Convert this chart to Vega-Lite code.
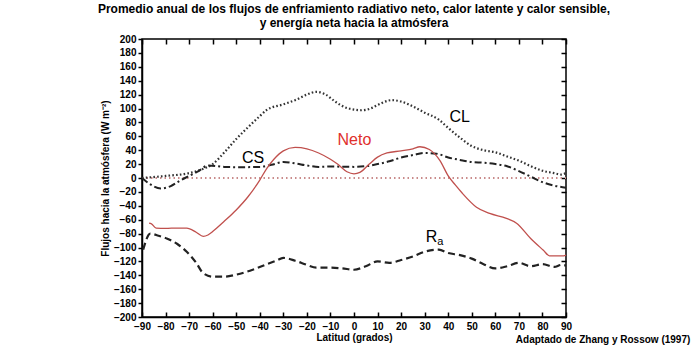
{
  "$schema": "https://vega.github.io/schema/vega-lite/v6.json",
  "width": 424,
  "height": 278,
  "autosize": "none",
  "padding": {"left": 142, "top": 39, "right": 134, "bottom": 33},
  "background": "white",
  "config": {
    "font": "Liberation Sans",
    "view": {"stroke": "black", "strokeWidth": 1.5},
    "axis": {"grid": false, "domainColor": "black", "tickColor": "black", "labelColor": "black", "titleColor": "black", "labelFont": "Liberation Sans", "titleFont": "Liberation Sans", "labelFontWeight": "bold", "titleFontWeight": "bold", "labelFontSize": 10, "titleFontSize": 10, "domainWidth": 1.5, "tickWidth": 1.5}
  },
  "title": {
    "text": ["Promedio anual de los flujos de enfriamiento radiativo neto, calor latente y calor sensible,", "y energía neta hacia la atmósfera"],
    "fontSize": 12,
    "fontWeight": "bold",
    "font": "Liberation Sans",
    "color": "black",
    "lineHeight": 14.5,
    "offset": 4,
    "anchor": "middle"
  },
  "datasets": {
    "curves": [
      {"s": "CL", "lat": -90, "v": 0}, {"s": "CL", "lat": -80, "v": 3}, {"s": "CL", "lat": -70, "v": 7}, {"s": "CL", "lat": -65, "v": 12}, {"s": "CL", "lat": -60, "v": 20}, {"s": "CL", "lat": -55, "v": 37}, {"s": "CL", "lat": -50, "v": 56}, {"s": "CL", "lat": -45, "v": 73}, {"s": "CL", "lat": -40, "v": 89}, {"s": "CL", "lat": -37, "v": 98}, {"s": "CL", "lat": -30, "v": 106}, {"s": "CL", "lat": -25, "v": 112}, {"s": "CL", "lat": -20, "v": 120}, {"s": "CL", "lat": -16, "v": 124}, {"s": "CL", "lat": -12, "v": 120}, {"s": "CL", "lat": -8, "v": 110}, {"s": "CL", "lat": -4, "v": 102}, {"s": "CL", "lat": 0, "v": 98.5}, {"s": "CL", "lat": 3, "v": 97.5}, {"s": "CL", "lat": 7, "v": 100}, {"s": "CL", "lat": 10, "v": 105}, {"s": "CL", "lat": 16, "v": 112}, {"s": "CL", "lat": 20, "v": 110}, {"s": "CL", "lat": 25, "v": 103}, {"s": "CL", "lat": 30, "v": 94}, {"s": "CL", "lat": 36, "v": 84}, {"s": "CL", "lat": 40, "v": 72}, {"s": "CL", "lat": 45, "v": 58}, {"s": "CL", "lat": 50, "v": 46}, {"s": "CL", "lat": 55, "v": 40}, {"s": "CL", "lat": 60, "v": 37}, {"s": "CL", "lat": 65, "v": 31}, {"s": "CL", "lat": 70, "v": 25}, {"s": "CL", "lat": 75, "v": 17}, {"s": "CL", "lat": 80, "v": 10.5}, {"s": "CL", "lat": 85, "v": 7}, {"s": "CL", "lat": 88, "v": 5}, {"s": "CL", "lat": 90, "v": 7},
      {"s": "CS", "lat": -90, "v": 0}, {"s": "CS", "lat": -87, "v": -8}, {"s": "CS", "lat": -82, "v": -15}, {"s": "CS", "lat": -78, "v": -12}, {"s": "CS", "lat": -74, "v": -4}, {"s": "CS", "lat": -70, "v": 3}, {"s": "CS", "lat": -66, "v": 10}, {"s": "CS", "lat": -62, "v": 18}, {"s": "CS", "lat": -55, "v": 16}, {"s": "CS", "lat": -50, "v": 15.5}, {"s": "CS", "lat": -40, "v": 16}, {"s": "CS", "lat": -35, "v": 19}, {"s": "CS", "lat": -30, "v": 23}, {"s": "CS", "lat": -25, "v": 21}, {"s": "CS", "lat": -20, "v": 18}, {"s": "CS", "lat": -15, "v": 16}, {"s": "CS", "lat": -10, "v": 16.5}, {"s": "CS", "lat": 0, "v": 16}, {"s": "CS", "lat": 5, "v": 17}, {"s": "CS", "lat": 10, "v": 20}, {"s": "CS", "lat": 15, "v": 24}, {"s": "CS", "lat": 20, "v": 29.5}, {"s": "CS", "lat": 25, "v": 33}, {"s": "CS", "lat": 30, "v": 36}, {"s": "CS", "lat": 35, "v": 35}, {"s": "CS", "lat": 40, "v": 29.5}, {"s": "CS", "lat": 45, "v": 26}, {"s": "CS", "lat": 50, "v": 23}, {"s": "CS", "lat": 55, "v": 22}, {"s": "CS", "lat": 60, "v": 20}, {"s": "CS", "lat": 65, "v": 17}, {"s": "CS", "lat": 70, "v": 10}, {"s": "CS", "lat": 75, "v": 2}, {"s": "CS", "lat": 80, "v": -6}, {"s": "CS", "lat": 85, "v": -11}, {"s": "CS", "lat": 90, "v": -14},
      {"s": "Neto", "lat": -87, "v": -65}, {"s": "Neto", "lat": -86, "v": -66}, {"s": "Neto", "lat": -84, "v": -72}, {"s": "Neto", "lat": -80, "v": -72.5}, {"s": "Neto", "lat": -75, "v": -72}, {"s": "Neto", "lat": -71, "v": -72}, {"s": "Neto", "lat": -67, "v": -78}, {"s": "Neto", "lat": -64, "v": -84}, {"s": "Neto", "lat": -62, "v": -82}, {"s": "Neto", "lat": -60, "v": -77}, {"s": "Neto", "lat": -55, "v": -62}, {"s": "Neto", "lat": -50, "v": -46}, {"s": "Neto", "lat": -45, "v": -27}, {"s": "Neto", "lat": -40, "v": -3}, {"s": "Neto", "lat": -37, "v": 14}, {"s": "Neto", "lat": -34, "v": 27}, {"s": "Neto", "lat": -30, "v": 39}, {"s": "Neto", "lat": -25, "v": 44}, {"s": "Neto", "lat": -20, "v": 42}, {"s": "Neto", "lat": -15, "v": 36}, {"s": "Neto", "lat": -10, "v": 27}, {"s": "Neto", "lat": -7, "v": 20}, {"s": "Neto", "lat": -3, "v": 9}, {"s": "Neto", "lat": 0, "v": 6}, {"s": "Neto", "lat": 2.5, "v": 8}, {"s": "Neto", "lat": 6.5, "v": 20}, {"s": "Neto", "lat": 10, "v": 30}, {"s": "Neto", "lat": 14, "v": 36}, {"s": "Neto", "lat": 20, "v": 39}, {"s": "Neto", "lat": 25, "v": 42}, {"s": "Neto", "lat": 28, "v": 45}, {"s": "Neto", "lat": 32, "v": 41}, {"s": "Neto", "lat": 36.5, "v": 25}, {"s": "Neto", "lat": 40, "v": 3}, {"s": "Neto", "lat": 43, "v": -10}, {"s": "Neto", "lat": 46, "v": -22}, {"s": "Neto", "lat": 52, "v": -42}, {"s": "Neto", "lat": 57.6, "v": -51}, {"s": "Neto", "lat": 64.7, "v": -58}, {"s": "Neto", "lat": 69, "v": -65}, {"s": "Neto", "lat": 75, "v": -87}, {"s": "Neto", "lat": 80.4, "v": -104}, {"s": "Neto", "lat": 83, "v": -112}, {"s": "Neto", "lat": 89, "v": -112}, {"s": "Neto", "lat": 90, "v": -111},
      {"s": "Ra", "lat": -89.5, "v": -103}, {"s": "Ra", "lat": -86.5, "v": -80}, {"s": "Ra", "lat": -83, "v": -83}, {"s": "Ra", "lat": -79.5, "v": -87}, {"s": "Ra", "lat": -75, "v": -95}, {"s": "Ra", "lat": -71, "v": -106}, {"s": "Ra", "lat": -67, "v": -122}, {"s": "Ra", "lat": -64, "v": -137}, {"s": "Ra", "lat": -60, "v": -142}, {"s": "Ra", "lat": -55, "v": -142}, {"s": "Ra", "lat": -50, "v": -139}, {"s": "Ra", "lat": -43, "v": -132}, {"s": "Ra", "lat": -37, "v": -124}, {"s": "Ra", "lat": -33, "v": -119}, {"s": "Ra", "lat": -30, "v": -115}, {"s": "Ra", "lat": -25, "v": -119}, {"s": "Ra", "lat": -20, "v": -125}, {"s": "Ra", "lat": -16, "v": -129}, {"s": "Ra", "lat": -10, "v": -129}, {"s": "Ra", "lat": -5, "v": -130}, {"s": "Ra", "lat": 0, "v": -132}, {"s": "Ra", "lat": 5, "v": -127}, {"s": "Ra", "lat": 10, "v": -120}, {"s": "Ra", "lat": 15, "v": -122}, {"s": "Ra", "lat": 20, "v": -118}, {"s": "Ra", "lat": 25, "v": -113}, {"s": "Ra", "lat": 30, "v": -106}, {"s": "Ra", "lat": 36, "v": -103}, {"s": "Ra", "lat": 40, "v": -108}, {"s": "Ra", "lat": 45, "v": -111}, {"s": "Ra", "lat": 50, "v": -116}, {"s": "Ra", "lat": 55, "v": -124}, {"s": "Ra", "lat": 60, "v": -130}, {"s": "Ra", "lat": 65, "v": -127}, {"s": "Ra", "lat": 70, "v": -122}, {"s": "Ra", "lat": 75, "v": -127}, {"s": "Ra", "lat": 80, "v": -124}, {"s": "Ra", "lat": 85, "v": -128}, {"s": "Ra", "lat": 88, "v": -125}, {"s": "Ra", "lat": 90, "v": -126},
      {"s": "Cero", "lat": -90, "v": 0}, {"s": "Cero", "lat": 90, "v": 0}
    ],
    "labels": [
      {"t": "CS", "lat": -47.6, "v": 28.5, "k": "big"},
      {"t": "Neto", "lat": -7, "v": 54.5, "k": "red"},
      {"t": "CL", "lat": 40.5, "v": 87.5, "k": "big"},
      {"t": "R", "lat": 30.5, "v": -85, "k": "big"},
      {"t": "a", "lat": 35.3, "v": -92, "k": "sub"},
      {"t": "Adaptado de Zhang y Rossow (1997)", "lat": 68.7, "v": -233, "k": "src"}
    ]
  },
  "data": {"name": "curves"},
  "resolve": {"axis": {"x": "independent", "y": "independent"}},
  "layer": [
    {
      "transform": [{"filter": "datum.s === 'Cero'"}],
      "mark": {"type": "line", "color": "#c98b8b", "strokeWidth": 1.8, "strokeDash": [1.5, 3], "clip": false},
      "encoding": {
        "x": {"field": "lat", "type": "quantitative", "scale": {"domain": [-90, 90], "nice": false, "zero": false},
              "axis": {"orient": "bottom", "values": [-90, -80, -70, -60, -50, -40, -30, -20, -10, 0, 10, 20, 30, 40, 50, 60, 70, 80, 90], "tickSize": -5, "labelPadding": 9, "title": "Latitud (grados)", "titlePadding": 1, "labelFlush": false, "labelOverlap": false}},
        "y": {"field": "v", "type": "quantitative", "scale": {"domain": [-200, 200], "nice": false, "zero": false},
              "axis": {"orient": "left", "values": [-200, -180, -160, -140, -120, -100, -80, -60, -40, -20, 0, 20, 40, 60, 80, 100, 120, 140, 160, 180, 200], "tickSize": 4, "labelPadding": 2, "title": "Flujos hacia la atmósfera (W m⁻²)", "titlePadding": 3, "labelFlush": false, "labelOverlap": false}}
      }
    },
    {
      "transform": [{"filter": "datum.s === 'CL'"}],
      "mark": {"type": "line", "color": "#333333", "strokeWidth": 2.2, "strokeDash": [1.6, 2.2], "interpolate": "monotone"},
      "encoding": {
        "x": {"field": "lat", "type": "quantitative", "axis": {"orient": "top", "values": [-90, -80, -70, -60, -50, -40, -30, -20, -10, 0, 10, 20, 30, 40, 50, 60, 70, 80, 90], "tickSize": -5, "labels": false, "title": null, "domain": false}},
        "y": {"field": "v", "type": "quantitative", "axis": {"orient": "right", "values": [-200, -180, -160, -140, -120, -100, -80, -60, -40, -20, 0, 20, 40, 60, 80, 100, 120, 140, 160, 180, 200], "tickSize": -5, "labels": false, "title": null, "domain": false}}
      }
    },
    {
      "transform": [{"filter": "datum.s === 'CS'"}],
      "mark": {"type": "line", "color": "#222222", "strokeWidth": 2, "strokeDash": [7, 3, 2, 3], "interpolate": "monotone"},
      "encoding": {
        "x": {"field": "lat", "type": "quantitative", "axis": null},
        "y": {"field": "v", "type": "quantitative", "axis": null}
      }
    },
    {
      "transform": [{"filter": "datum.s === 'Ra'"}],
      "mark": {"type": "line", "color": "#222222", "strokeWidth": 2.2, "strokeDash": [7, 4], "interpolate": "monotone"},
      "encoding": {
        "x": {"field": "lat", "type": "quantitative", "axis": null},
        "y": {"field": "v", "type": "quantitative", "axis": null}
      }
    },
    {
      "transform": [{"filter": "datum.s === 'Neto'"}],
      "mark": {"type": "line", "color": "#c0504d", "strokeWidth": 1.3, "interpolate": "monotone"},
      "encoding": {
        "x": {"field": "lat", "type": "quantitative", "axis": null},
        "y": {"field": "v", "type": "quantitative", "axis": null}
      }
    },
    {
      "data": {"name": "labels"},
      "transform": [{"filter": "datum.k === 'big'"}],
      "mark": {"type": "text", "fontSize": 16, "font": "Liberation Sans", "color": "black", "align": "left", "baseline": "middle", "clip": false},
      "encoding": {
        "x": {"field": "lat", "type": "quantitative", "axis": null},
        "y": {"field": "v", "type": "quantitative", "axis": null},
        "text": {"field": "t"}
      }
    },
    {
      "data": {"name": "labels"},
      "transform": [{"filter": "datum.k === 'sub'"}],
      "mark": {"type": "text", "fontSize": 11, "font": "Liberation Sans", "color": "black", "align": "left", "baseline": "middle", "clip": false},
      "encoding": {
        "x": {"field": "lat", "type": "quantitative", "axis": null},
        "y": {"field": "v", "type": "quantitative", "axis": null},
        "text": {"field": "t"}
      }
    },
    {
      "data": {"name": "labels"},
      "transform": [{"filter": "datum.k === 'red'"}],
      "mark": {"type": "text", "fontSize": 16, "font": "Liberation Sans", "color": "#e0302c", "align": "left", "baseline": "middle", "clip": false},
      "encoding": {
        "x": {"field": "lat", "type": "quantitative", "axis": null},
        "y": {"field": "v", "type": "quantitative", "axis": null},
        "text": {"field": "t"}
      }
    },
    {
      "data": {"name": "labels"},
      "transform": [{"filter": "datum.k === 'src'"}],
      "mark": {"type": "text", "fontSize": 10, "fontWeight": "bold", "font": "Liberation Sans", "color": "black", "align": "left", "baseline": "middle", "clip": false},
      "encoding": {
        "x": {"field": "lat", "type": "quantitative", "axis": null},
        "y": {"field": "v", "type": "quantitative", "axis": null},
        "text": {"field": "t"}
      }
    }
  ]
}
